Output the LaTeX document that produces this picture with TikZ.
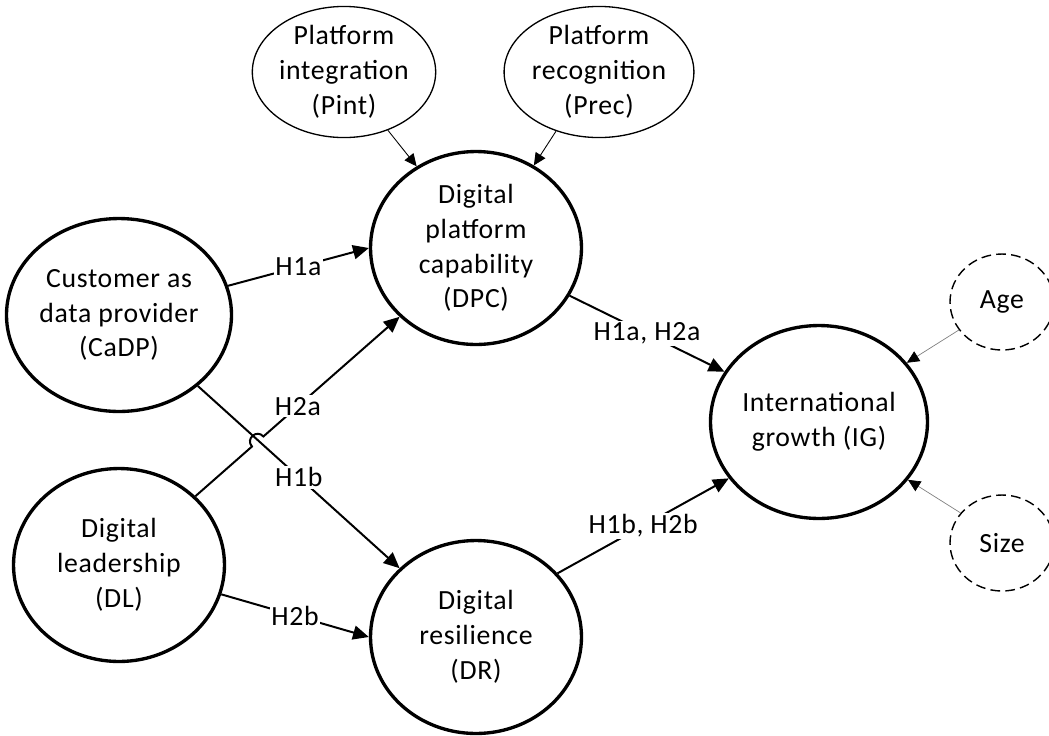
\documentclass[tikz,border=0pt]{standalone}
\usepackage{fontspec}
\setmainfont{Carlito}[LetterSpace=2.5]
\usetikzlibrary{arrows.meta,shapes.geometric,calc}
\begin{document}
\begin{tikzpicture}[x=0.02cm,y=-0.02cm,
  font=\fontsize{15.8}{19.8}\selectfont,
  big/.style={ellipse, draw, line width=1.9pt, minimum width=4.22cm, minimum height=3.86cm, align=center, inner sep=0pt},
  small/.style={ellipse, draw, line width=0.75pt, minimum width=3.66cm, minimum height=2.54cm, align=center, inner sep=0pt},
  ctrl/.style={ellipse, draw, dash pattern=on 5.5pt off 3pt, line width=0.8pt, minimum width=2.08cm, minimum height=1.92cm, inner sep=0pt},
  arr/.style={line width=1.13pt, -{Triangle[length=9pt,width=8pt]}},
  thinarr/.style={line width=0.5pt, -{Triangle[length=7pt,width=6.5pt]}},
  ctrlarr/.style={line width=0.4pt, draw=gray, -{Triangle[length=7pt,width=6.5pt,color=black]}},
  lbl/.style={fill=white, inner sep=1pt}]
\useasboundingbox (0,0) rectangle (1049,735);

\node[small] (Pint) at (344,72) {Platform\\integration\\(Pint)};
\node[small] (Prec) at (599,72) {Platform\\recognition\\(Prec)};
\node[big] (DPC) at (476,248) {Digital\\platform\\capability\\(DPC)};
\node[big] (CaDP) at (119,315) {Customer as\\data provider\\(CaDP)};
\node[big] (DL) at (119,565) {Digital\\leadership\\(DL)};
\node[big] (DR) at (476,637) {Digital\\resilience\\(DR)};
\node[big] (IG) at (819,422) {International\\growth (IG)};
\node[ctrl] (Age) at (1002,302) {Age};
\node[ctrl] (Size) at (1002,543) {Size};

\draw[arr] (CaDP.15) -- node[lbl]{H1a} (DPC.180);
\draw[arr] (CaDP.-42) -- node[lbl]{H1b} (DR.138);
\draw[arr] (DL.-16) -- node[lbl]{H2b} (DR.180);

\coordinate (hA) at ($(DL.42)!0.277!(DPC.222)$);
\coordinate (hB) at ($(DL.42)!0.333!(DPC.222)$);
\draw[arr] (DL.42) -- (hA)
  .. controls ($(hA)!0.667!90:(hB)$) and ($(hB)!0.667!-90:(hA)$) .. (hB)
  -- node[lbl,pos=0.253]{H2a} (DPC.222);

\draw[arr] (DPC.-27) -- node[lbl]{H1a, H2a} (IG.152);
\draw[arr] (DR.38) -- node[lbl]{H1b, H2b} (IG.212);
\draw[thinarr] (Pint.-53) -- (DPC.126);
\draw[thinarr] (Prec.234) -- (DPC.55);
\draw[ctrlarr] (Age.213) -- (IG.34);
\draw[ctrlarr] (Size.144) -- (IG.-33);
\end{tikzpicture}
\end{document}
